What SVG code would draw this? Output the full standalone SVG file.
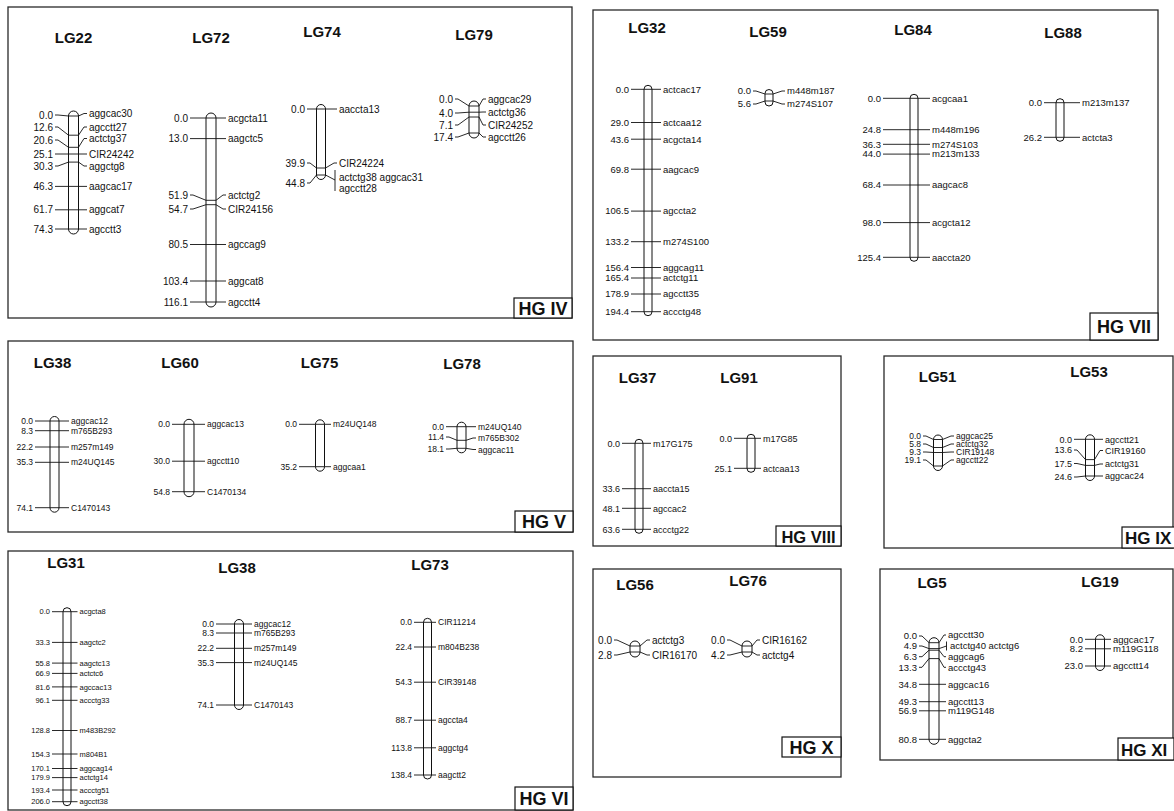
<svg xmlns="http://www.w3.org/2000/svg" width="1174" height="811" viewBox="0 0 1174 811">
<style>
text{font-family:"Liberation Sans",Arial,sans-serif;fill:#111}
.panel{fill:#fff;stroke:#2a2a2a;stroke-width:1.3}
.hgbox{fill:#fff;stroke:#111;stroke-width:1.2}
.hg{font-size:18px;font-weight:bold;text-anchor:middle}
.t{font-size:15px;font-weight:bold;text-anchor:middle}
.bar{fill:none;stroke:#111;stroke-width:1}
.tk path{fill:none;stroke:#111;stroke-width:0.9}
.n{text-anchor:end}
</style>
<rect width="1174" height="811" fill="#fff"/>
<g id="panels">
<rect class="panel" x="8" y="7" width="564" height="311"/>
<rect class="hgbox" x="514" y="298" width="58" height="20"/><text class="hg" x="543" y="314.5">HG IV</text>
<rect class="panel" x="593" y="10" width="565" height="330"/>
<rect class="hgbox" x="1090" y="313" width="68" height="27"/><text class="hg" x="1124" y="333">HG VII</text>
<rect class="panel" x="8" y="341" width="565" height="191"/>
<rect class="hgbox" x="515" y="511" width="58" height="21"/><text class="hg" x="544" y="528">HG V</text>
<rect class="panel" x="593" y="356" width="248" height="190"/>
<rect class="hgbox" x="776" y="526" width="65" height="20"/><text class="hg" x="808.5" y="542.5" style="font-size:16.5px">HG VIII</text>
<rect class="panel" x="884" y="356" width="289" height="192"/>
<rect class="hgbox" x="1122" y="527" width="54" height="21"/><text class="hg" x="1125" y="544" style="text-anchor:start;font-size:17px">HG IX</text>
<rect class="panel" x="8" y="551" width="565" height="259"/>
<rect class="hgbox" x="515" y="787" width="58" height="23"/><text class="hg" x="544" y="805">HG VI</text>
<rect class="panel" x="593" y="569" width="248" height="208"/>
<rect class="hgbox" x="782" y="737" width="59" height="20"/><text class="hg" x="811.5" y="753.5">HG X</text>
<rect class="panel" x="880" y="569" width="293" height="191"/>
<rect class="hgbox" x="1118" y="738" width="56" height="22"/><text class="hg" x="1121" y="755.5" style="text-anchor:start;font-size:17px">HG XI</text>
</g>
<g id="connectors" class="tk">
<g id="c-LG22"><path d="M55,115H58L68.5,116H78.5L84,113.5H87M55,127H58L68.5,135.2H78.5L84,127H87M55,140H58L68.5,147.3H78.5L84,138.5H87M55,154H87M55,166H58L68.5,162.1H78.5L84,166H87M55,186.4H87M55,209.8H87M55,229H87"/></g>
<g id="c-LG72"><path d="M190,118H226M190,138.6H226M190,195H193L206,200.3H216L223,195H226M190,209H193L206,204.7H216L223,209H226M190,244.5H226M190,281H226M190,302H226"/></g>
<g id="c-LG74"><path d="M307,109H337M307,163H310L316.5,168H325.5L334,163H337M307,183H310L316.5,175H325.5L335,180M335,170V191"/></g>
<g id="c-LG79"><path d="M455,99H458L469,106H479L483,99H486M455,113H458L469,112.2H479L483,112H486M455,125H458L469,117H479L483,125H486M455,137H458L469,133H479L483,137H486"/></g>
<g id="c-LG32"><path d="M631,89.3H661M631,122.5H661M631,139.2H661M631,169.2H661M631,211.1H661M631,241.7H661M631,267.5H661M631,278H661M631,294H661M631,311.7H661"/></g>
<g id="c-LG59"><path d="M753,91H756L765,94H773L782,91H785M753,104H756L765,101H773L782,104H785"/></g>
<g id="c-LG84"><path d="M883,98.3H930M883,129.7H930M883,144.3H930M883,154.1H930M883,185H930M883,222.6H930M883,257.3H930"/></g>
<g id="c-LG88"><path d="M1044,102.7H1080M1044,137.3H1080"/></g>
<g id="c-LG38a"><path d="M35,421H69M35,430.7H69M35,447H69M35,462.3H69M35,507.7H69"/></g>
<g id="c-LG60"><path d="M172,424.3H205M172,461.2H205M172,491.7H205"/></g>
<g id="c-LG75"><path d="M299,424.3H331M299,466.7H331"/></g>
<g id="c-LG78"><path d="M446,426.7H476M446,437H449L457,440.3H466L473,438H476M446,449H449L457,448.3H466L473,449.5H476"/></g>
<g id="c-LG37"><path d="M622,443.3H651M622,488.7H651M622,508.3H651M622,529.3H651"/></g>
<g id="c-LG91"><path d="M734,438.3H761M734,468.3H761"/></g>
<g id="c-LG51"><path d="M923,436H926L933.5,439.5H942.5L951,436H954M923,444H926L933.5,447.5H942.5L951,444H954M923,452H926L933.5,452.5H942.5L951,452H954M923,460H926L933.5,466H942.5L951,460H954"/></g>
<g id="c-LG53"><path d="M1074,439.3H1103M1074,450H1077L1085.5,459.6H1094.5L1100,450.5H1103M1074,463.5H1077L1085.5,465.4H1094.5L1100,464H1103M1074,477H1077L1085.5,476H1094.5L1100,476H1103"/></g>
<g id="c-LG31"><path d="M52,611.7H77.5M52,642.4H77.5M52,663.1H77.5M52,673.4H77.5M52,686.9H77.5M52,700.3H77.5M52,730.5H77.5M52,754H77.5M52,768.5H77.5M52,777.6H77.5M52,790H77.5M52,801.7H77.5"/></g>
<g id="c-LG38b"><path d="M216,624H252M216,633H252M216,648.3H252M216,662.6H252M216,705H252"/></g>
<g id="c-LG73"><path d="M414,622.3H436M414,647H436M414,682.2H436M414,720.2H436M414,747.8H436M414,775H436"/></g>
<g id="c-LG56"><path d="M614,640H617L630,646H640L647,640H650M614,655H617L630,652H640L647,655H650"/></g>
<g id="c-LG76"><path d="M727,640H730L742,646H752L757,640H760M727,655H730L742,652H752L757,655H760"/></g>
<g id="c-LG5"><path d="M919,636H922L929,642.7H939L944,635H946M919,646H922L929,648.6H939L946.5,646M946.5,641.5V650.5M919,656.7H922L929,650.2H939L944,656.7H946M919,667.3H922L929,658.6H939L944,667.3H946M919,684.3H946M919,701.7H946M919,710.8H946M919,739.3H946"/></g>
<g id="c-LG19"><path d="M1085,639.3H1111M1085,648.8H1111M1085,666H1111"/></g>
</g>
<g id="LG22" font-size="10">
<text class="t" x="73.5" y="43">LG22</text>
<rect class="bar" x="68.5" y="111" width="10" height="123" rx="5"/>
<text class="n" x="53" y="118.5">0.0</text><text class="n" x="53" y="130.5">12.6</text><text class="n" x="53" y="143.5">20.6</text><text class="n" x="53" y="157.5">25.1</text><text class="n" x="53" y="169.5">30.3</text><text class="n" x="53" y="189.9">46.3</text><text class="n" x="53" y="213.3">61.7</text><text class="n" x="53" y="232.5">74.3</text>
<text x="89" y="117">aggcac30</text><text x="89" y="130.5">agcctt27</text><text x="89" y="142">actctg37</text><text x="89" y="157.5">CIR24242</text><text x="89" y="169.5">aggctg8</text><text x="89" y="189.9">aagcac17</text><text x="89" y="213.3">aggcat7</text><text x="89" y="232.5">agcctt3</text>
</g>
<g id="LG72" font-size="10">
<text class="t" x="211" y="43">LG72</text>
<rect class="bar" x="206" y="113" width="10" height="194" rx="5"/>
<text class="n" x="188" y="121.5">0.0</text><text class="n" x="188" y="142.1">13.0</text><text class="n" x="188" y="198.5">51.9</text><text class="n" x="188" y="212.5">54.7</text><text class="n" x="188" y="248">80.5</text><text class="n" x="188" y="284.5">103.4</text><text class="n" x="188" y="305.5">116.1</text>
<text x="228" y="121.5">acgcta11</text><text x="228" y="142.1">aagctc5</text><text x="228" y="198.5">actctg2</text><text x="228" y="212.5">CIR24156</text><text x="228" y="248">agccag9</text><text x="228" y="284.5">aggcat8</text><text x="228" y="305.5">agcctt4</text>
</g>
<g id="LG74" font-size="10">
<text class="t" x="322" y="37">LG74</text>
<rect class="bar" x="316.5" y="104.5" width="9" height="75" rx="4.5"/>
<text class="n" x="305" y="112.5">0.0</text><text class="n" x="305" y="166.5">39.9</text><text class="n" x="305" y="186.5">44.8</text>
<text x="339" y="112.5">aaccta13</text><text x="339" y="166.5">CIR24224</text><text x="339" y="180.5">actctg38 aggcac31</text><text x="339" y="191.5">agcctt28</text>
</g>
<g id="LG79" font-size="10">
<text class="t" x="474" y="40">LG79</text>
<rect class="bar" x="469" y="101" width="10" height="37" rx="5"/>
<text class="n" x="453" y="102.5">0.0</text><text class="n" x="453" y="116.5">4.0</text><text class="n" x="453" y="128.5">7.1</text><text class="n" x="453" y="140.5">17.4</text>
<text x="488" y="102.5">aggcac29</text><text x="488" y="115.5">actctg36</text><text x="488" y="128.5">CIR24252</text><text x="488" y="140.5">agcctt26</text>
</g>
<g id="LG32" font-size="9.5">
<text class="t" x="647" y="33">LG32</text>
<rect class="bar" x="644" y="85.3" width="8" height="230.4" rx="4"/>
<text class="n" x="629" y="92.6">0.0</text><text class="n" x="629" y="125.8">29.0</text><text class="n" x="629" y="142.5">43.6</text><text class="n" x="629" y="172.5">69.8</text><text class="n" x="629" y="214.4">106.5</text><text class="n" x="629" y="245">133.2</text><text class="n" x="629" y="270.8">156.4</text><text class="n" x="629" y="281.3">165.4</text><text class="n" x="629" y="297.3">178.9</text><text class="n" x="629" y="315">194.4</text>
<text x="663" y="92.6">actcac17</text><text x="663" y="125.8">actcaa12</text><text x="663" y="142.5">acgcta14</text><text x="663" y="172.5">aagcac9</text><text x="663" y="214.4">agccta2</text><text x="663" y="245">m274S100</text><text x="663" y="270.8">aggcag11</text><text x="663" y="281.3">actctg11</text><text x="663" y="297.3">agcctt35</text><text x="663" y="315">accctg48</text>
</g>
<g id="LG59" font-size="9.5">
<text class="t" x="768" y="37">LG59</text>
<rect class="bar" x="765" y="89.5" width="8" height="16.5" rx="4"/>
<text class="n" x="751" y="94.3">0.0</text><text class="n" x="751" y="107.3">5.6</text>
<text x="787" y="94.3">m448m187</text><text x="787" y="107.3">m274S107</text>
</g>
<g id="LG84" font-size="9.5">
<text class="t" x="913" y="35">LG84</text>
<rect class="bar" x="910" y="94.3" width="8" height="167" rx="4"/>
<text class="n" x="881" y="101.6">0.0</text><text class="n" x="881" y="133">24.8</text><text class="n" x="881" y="147.6">36.3</text><text class="n" x="881" y="157.4">44.0</text><text class="n" x="881" y="188.3">68.4</text><text class="n" x="881" y="225.9">98.0</text><text class="n" x="881" y="260.6">125.4</text>
<text x="932" y="101.6">acgcaa1</text><text x="932" y="133">m448m196</text><text x="932" y="147.6">m274S103</text><text x="932" y="157.4">m213m133</text><text x="932" y="188.3">aagcac8</text><text x="932" y="225.9">acgcta12</text><text x="932" y="260.6">aaccta20</text>
</g>
<g id="LG88" font-size="9.5">
<text class="t" x="1063" y="38">LG88</text>
<rect class="bar" x="1056" y="98.7" width="8" height="42.6" rx="4"/>
<text class="n" x="1042" y="106">0.0</text><text class="n" x="1042" y="140.6">26.2</text>
<text x="1082" y="106">m213m137</text><text x="1082" y="140.6">actcta3</text>
</g>
<g id="LG38-HGV" font-size="8.5">
<text class="t" x="52.5" y="368">LG38</text>
<rect class="bar" x="50" y="416.5" width="9" height="95.7" rx="4.5"/>
<text class="n" x="33" y="424">0.0</text><text class="n" x="33" y="433.7">8.3</text><text class="n" x="33" y="450">22.2</text><text class="n" x="33" y="465.3">35.3</text><text class="n" x="33" y="510.7">74.1</text>
<text x="71" y="424">aggcac12</text><text x="71" y="433.7">m765B293</text><text x="71" y="450">m257m149</text><text x="71" y="465.3">m24UQ145</text><text x="71" y="510.7">C1470143</text>
</g>
<g id="LG60" font-size="8.5">
<text class="t" x="180" y="368">LG60</text>
<rect class="bar" x="184" y="419.3" width="10" height="77.4" rx="5"/>
<text class="n" x="170" y="427.3">0.0</text><text class="n" x="170" y="464.2">30.0</text><text class="n" x="170" y="494.7">54.8</text>
<text x="207" y="427.3">aggcac13</text><text x="207" y="464.2">agcctt10</text><text x="207" y="494.7">C1470134</text>
</g>
<g id="LG75" font-size="8.5">
<text class="t" x="319.5" y="368">LG75</text>
<rect class="bar" x="315.5" y="419.8" width="9" height="51.4" rx="4.5"/>
<text class="n" x="297" y="427.3">0.0</text><text class="n" x="297" y="469.7">35.2</text>
<text x="333" y="427.3">m24UQ148</text><text x="333" y="469.7">aggcaa1</text>
</g>
<g id="LG78" font-size="8.5">
<text class="t" x="462" y="369">LG78</text>
<rect class="bar" x="457" y="422.2" width="9" height="30.6" rx="4.5"/>
<text class="n" x="444" y="429.7">0.0</text><text class="n" x="444" y="440">11.4</text><text class="n" x="444" y="452">18.1</text>
<text x="478" y="429.7">m24UQ140</text><text x="478" y="441">m765B302</text><text x="478" y="452.5">aggcac11</text>
</g>
<g id="LG37" font-size="9">
<text class="t" x="637.5" y="383">LG37</text>
<rect class="bar" x="635" y="439.3" width="8" height="94" rx="4"/>
<text class="n" x="620" y="446.5">0.0</text><text class="n" x="620" y="491.9">33.6</text><text class="n" x="620" y="511.5">48.1</text><text class="n" x="620" y="532.5">63.6</text>
<text x="653" y="446.5">m17G175</text><text x="653" y="491.9">aaccta15</text><text x="653" y="511.5">agccac2</text><text x="653" y="532.5">accctg22</text>
</g>
<g id="LG91" font-size="9">
<text class="t" x="739" y="383">LG91</text>
<rect class="bar" x="747" y="434.3" width="8" height="38" rx="4"/>
<text class="n" x="732" y="441.5">0.0</text><text class="n" x="732" y="471.5">25.1</text>
<text x="763" y="441.5">m17G85</text><text x="763" y="471.5">actcaa13</text>
</g>
<g id="LG51" font-size="8.5">
<text class="t" x="937.5" y="382">LG51</text>
<rect class="bar" x="933.5" y="435" width="9" height="35.5" rx="4.5"/>
<text class="n" x="921" y="439">0.0</text><text class="n" x="921" y="447">5.8</text><text class="n" x="921" y="455">9.3</text><text class="n" x="921" y="463">19.1</text>
<text x="956" y="439">aggcac25</text><text x="956" y="447">actctg32</text><text x="956" y="455">CIR19148</text><text x="956" y="463">agcctt22</text>
</g>
<g id="LG53" font-size="9">
<text class="t" x="1089" y="377">LG53</text>
<rect class="bar" x="1085.5" y="434.8" width="9" height="45.7" rx="4.5"/>
<text class="n" x="1072" y="442.5">0.0</text><text class="n" x="1072" y="453.2">13.6</text><text class="n" x="1072" y="466.7">17.5</text><text class="n" x="1072" y="480.2">24.6</text>
<text x="1105" y="442.5">agcctt21</text><text x="1105" y="453.7">CIR19160</text><text x="1105" y="467.2">actctg31</text><text x="1105" y="479.2">aggcac24</text>
</g>
<g id="LG31" font-size="7.5">
<text class="t" x="66" y="568">LG31</text>
<rect class="bar" x="63" y="607.7" width="8" height="198" rx="4"/>
<text class="n" x="50" y="614.4">0.0</text><text class="n" x="50" y="645.1">33.3</text><text class="n" x="50" y="665.8">55.8</text><text class="n" x="50" y="676.1">66.9</text><text class="n" x="50" y="689.6">81.6</text><text class="n" x="50" y="703">96.1</text><text class="n" x="50" y="733.2">128.8</text><text class="n" x="50" y="756.7">154.3</text><text class="n" x="50" y="771.2">170.1</text><text class="n" x="50" y="780.3">179.9</text><text class="n" x="50" y="792.7">193.4</text><text class="n" x="50" y="804.4">206.0</text>
<text x="79.5" y="614.4">acgcta8</text><text x="79.5" y="645.1">aagctc2</text><text x="79.5" y="665.8">aagctc13</text><text x="79.5" y="676.1">actctc6</text><text x="79.5" y="689.6">agccac13</text><text x="79.5" y="703">accctg33</text><text x="79.5" y="733.2">m483B292</text><text x="79.5" y="756.7">m804B1</text><text x="79.5" y="771.2">aggcag14</text><text x="79.5" y="780.3">actctg14</text><text x="79.5" y="792.7">accctg51</text><text x="79.5" y="804.4">agcctt38</text>
</g>
<g id="LG38-HGVI" font-size="8.5">
<text class="t" x="237" y="573">LG38</text>
<rect class="bar" x="234.5" y="619.5" width="9" height="90" rx="4.5"/>
<text class="n" x="214" y="627">0.0</text><text class="n" x="214" y="636">8.3</text><text class="n" x="214" y="651.3">22.2</text><text class="n" x="214" y="665.6">35.3</text><text class="n" x="214" y="708">74.1</text>
<text x="254" y="627">aggcac12</text><text x="254" y="636">m765B293</text><text x="254" y="651.3">m257m149</text><text x="254" y="665.6">m24UQ145</text><text x="254" y="708">C1470143</text>
</g>
<g id="LG73" font-size="8.5">
<text class="t" x="430" y="570">LG73</text>
<rect class="bar" x="423.5" y="618.3" width="8" height="160.7" rx="4"/>
<text class="n" x="412" y="625.3">0.0</text><text class="n" x="412" y="650">22.4</text><text class="n" x="412" y="685.2">54.3</text><text class="n" x="412" y="723.2">88.7</text><text class="n" x="412" y="750.8">113.8</text><text class="n" x="412" y="778">138.4</text>
<text x="438" y="625.3">CIR11214</text><text x="438" y="650">m804B238</text><text x="438" y="685.2">CIR39148</text><text x="438" y="723.2">agccta4</text><text x="438" y="750.8">aggctg4</text><text x="438" y="778">aagctt2</text>
</g>
<g id="LG56" font-size="10">
<text class="t" x="635" y="590">LG56</text>
<rect class="bar" x="630" y="641" width="10" height="16" rx="5"/>
<text class="n" x="612" y="643.5">0.0</text><text class="n" x="612" y="658.5">2.8</text>
<text x="652" y="643.5">actctg3</text><text x="652" y="658.5">CIR16170</text>
</g>
<g id="LG76" font-size="10">
<text class="t" x="748" y="586">LG76</text>
<rect class="bar" x="742" y="641" width="10" height="16" rx="5"/>
<text class="n" x="725" y="643.5">0.0</text><text class="n" x="725" y="658.5">4.2</text>
<text x="762" y="643.5">CIR16162</text><text x="762" y="658.5">actctg4</text>
</g>
<g id="LG5" font-size="9.5">
<text class="t" x="932" y="588">LG5</text>
<rect class="bar" x="929" y="637.7" width="10" height="106.6" rx="5"/>
<text class="n" x="917" y="639.3">0.0</text><text class="n" x="917" y="649.3">4.9</text><text class="n" x="917" y="660">6.3</text><text class="n" x="917" y="670.6">13.3</text><text class="n" x="917" y="687.6">34.8</text><text class="n" x="917" y="705">49.3</text><text class="n" x="917" y="714.1">56.9</text><text class="n" x="917" y="742.6">80.8</text>
<text x="948" y="638.3">agcctt30</text><text x="950" y="649.3">actctg40 actctg6</text><text x="948" y="660">aggcag6</text><text x="948" y="670.6">accctg43</text><text x="948" y="687.6">aggcac16</text><text x="948" y="705">agcctt13</text><text x="948" y="714.1">m119G148</text><text x="948" y="742.6">aggcta2</text>
</g>
<g id="LG19" font-size="9.5">
<text class="t" x="1100" y="587">LG19</text>
<rect class="bar" x="1095.5" y="634.8" width="9" height="35.7" rx="4.5"/>
<text class="n" x="1083" y="642.6">0.0</text><text class="n" x="1083" y="652.1">8.2</text><text class="n" x="1083" y="669.3">23.0</text>
<text x="1113" y="642.6">aggcac17</text><text x="1113" y="652.1">m119G118</text><text x="1113" y="669.3">agcctt14</text>
</g>
</svg>
